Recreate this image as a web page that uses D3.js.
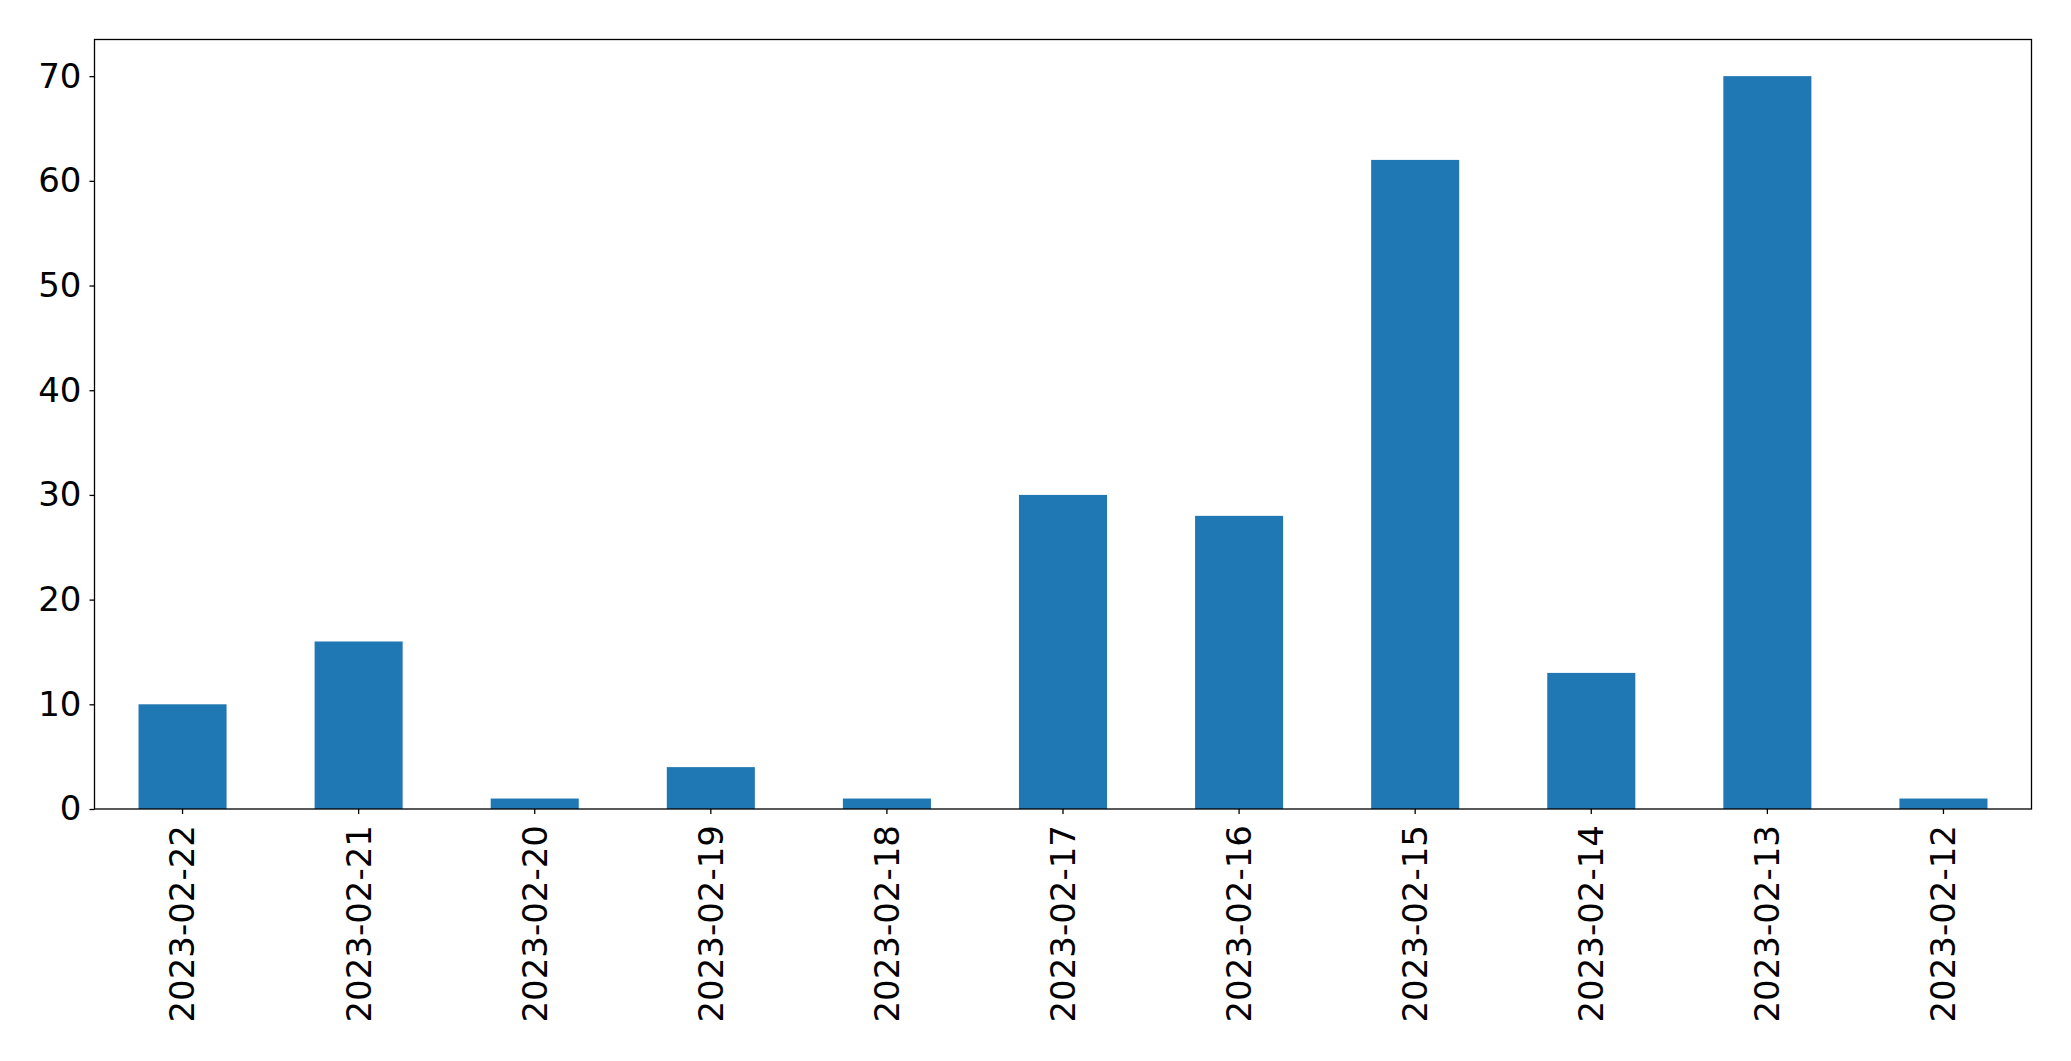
<!DOCTYPE html>
<html>
<head>
<meta charset="utf-8">
<script src="https://cdn.jsdelivr.net/npm/d3@7"></script>
<style>
html,body{margin:0;padding:0;background:#fff;}
svg text{font-family:"DejaVu Sans",sans-serif;fill:#000;}
</style>
</head>
<body>
<svg id="chart" width="2071" height="1061"></svg>
<script>
const categories = ["2023-02-22","2023-02-21","2023-02-20","2023-02-19","2023-02-18","2023-02-17","2023-02-16","2023-02-15","2023-02-14","2023-02-13","2023-02-12"];
const values = [10, 16, 1, 4, 1, 30, 28, 62, 13, 70, 1];
const yTicks = [0, 10, 20, 30, 40, 50, 60, 70];

(function () {
const svg = d3.select("#chart");
const mLeft = 94.5, mRight = 2031.5, mTop = 39.5, mBottom = 809;
const x = d3.scaleBand().domain(categories).range([mLeft, mRight]).paddingInner(0.5).paddingOuter(0.25);
const y = d3.scaleLinear().domain([0, d3.max(values) * 1.05]).range([mBottom, mTop]);

svg.append("g").selectAll("rect").data(categories).join("rect")
  .attr("x", d => x(d))
  .attr("width", x.bandwidth())
  .attr("y", (d, i) => y(values[i]))
  .attr("height", (d, i) => y(0) - y(values[i]))
  .attr("fill", "#1f77b4");

const yAxis = svg.append("g").attr("transform", `translate(${mLeft},0)`)
  .call(d3.axisLeft(y).tickValues(yTicks).tickSize(5).tickPadding(8));
yAxis.select(".domain").remove();
yAxis.selectAll("line").attr("stroke", "#000").attr("stroke-width", 1.3);
yAxis.selectAll("text").attr("font-size", 34).attr("font-family", "DejaVu Sans");

const xAxis = svg.append("g").attr("transform", `translate(0,${mBottom})`)
  .call(d3.axisBottom(x).tickSize(5).tickPadding(0));
xAxis.select(".domain").remove();
xAxis.selectAll("line").attr("stroke", "#000").attr("stroke-width", 1.3);
xAxis.selectAll("text")
  .attr("font-size", 34).attr("font-family", "DejaVu Sans")
  .attr("transform", "rotate(-90)")
  .attr("text-anchor", "end")
  .attr("x", -16).attr("y", 0).attr("dy", "0.35em");

svg.append("rect").attr("x", mLeft).attr("y", mTop)
  .attr("width", mRight - mLeft).attr("height", mBottom - mTop)
  .attr("fill", "none").attr("stroke", "#000").attr("stroke-width", 1.3);
})();
</script>
</body>
</html>
